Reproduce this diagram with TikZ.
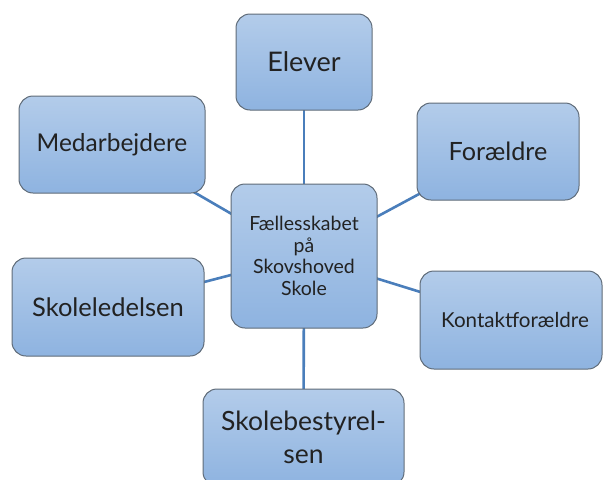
\documentclass[tikz,border=0pt]{standalone}
\usepackage{fontspec}
\setmainfont{Lato}
\usetikzlibrary{backgrounds}
\definecolor{boxtop}{HTML}{B3CCEA}
\definecolor{boxbot}{HTML}{8EB3E0}
\definecolor{boxline}{HTML}{5F6B78}
\definecolor{conn}{HTML}{4A7EBB}
\definecolor{txt}{HTML}{222222}
\tikzset{
  box/.style={draw=boxline, line width=1pt, rounded corners=14pt,
    top color=boxtop, bottom color=boxbot, text=txt, align=center,
    inner sep=2pt},
  conline/.style={draw=conn, line width=2.6pt}
}
\begin{document}
\begin{tikzpicture}[x=1pt,y=-1pt]
\useasboundingbox (0,0) rectangle (604,479);
\clip (0,0) rectangle (604,479);
\node[box, minimum width=136pt, minimum height=96pt, font=\fontsize{27}{32}\selectfont] (el) at (304,62) {Elever};
\node[box, minimum width=186pt, minimum height=97pt, font=\fontsize{24.5}{28}\selectfont] (me) at (112,144.5) {Medarbejdere};
\node[box, minimum width=162pt, minimum height=97pt, font=\fontsize{25.2}{28}\selectfont] (fo) at (498,151.5) {Forældre};
\node[box, minimum width=146pt, minimum height=144pt, font=\fontsize{19.5}{21.5}\selectfont] (c) at (304,256) {Fællesskabet\\på\\Skovshoved\\Skole};
\node[box, minimum width=192pt, minimum height=98pt, font=\fontsize{25.5}{28}\selectfont] (sl) at (108,307) {Skoleledelsen};
\node[box, minimum width=182pt, minimum height=98pt, font=\fontsize{20.6}{24}\selectfont] (ko) at (511,320) {\hspace*{8pt}Kontaktforældre};
\node[box, minimum width=201pt, minimum height=97pt, font=\fontsize{26.5}{33}\selectfont] (sb) at (303.5,437.5) {Skolebestyrel-\\sen};
\begin{scope}[on background layer]
\draw[conline] (c.center) -- (el.center);
\draw[conline] (c.center) -- (me.center);
\draw[conline] (c.center) -- (fo.center);
\draw[conline] (c.center) -- (sl.center);
\draw[conline] (c.center) -- (ko.center);
\draw[conline] (c.center) -- (sb.center);
\end{scope}
\end{tikzpicture}
\end{document}
